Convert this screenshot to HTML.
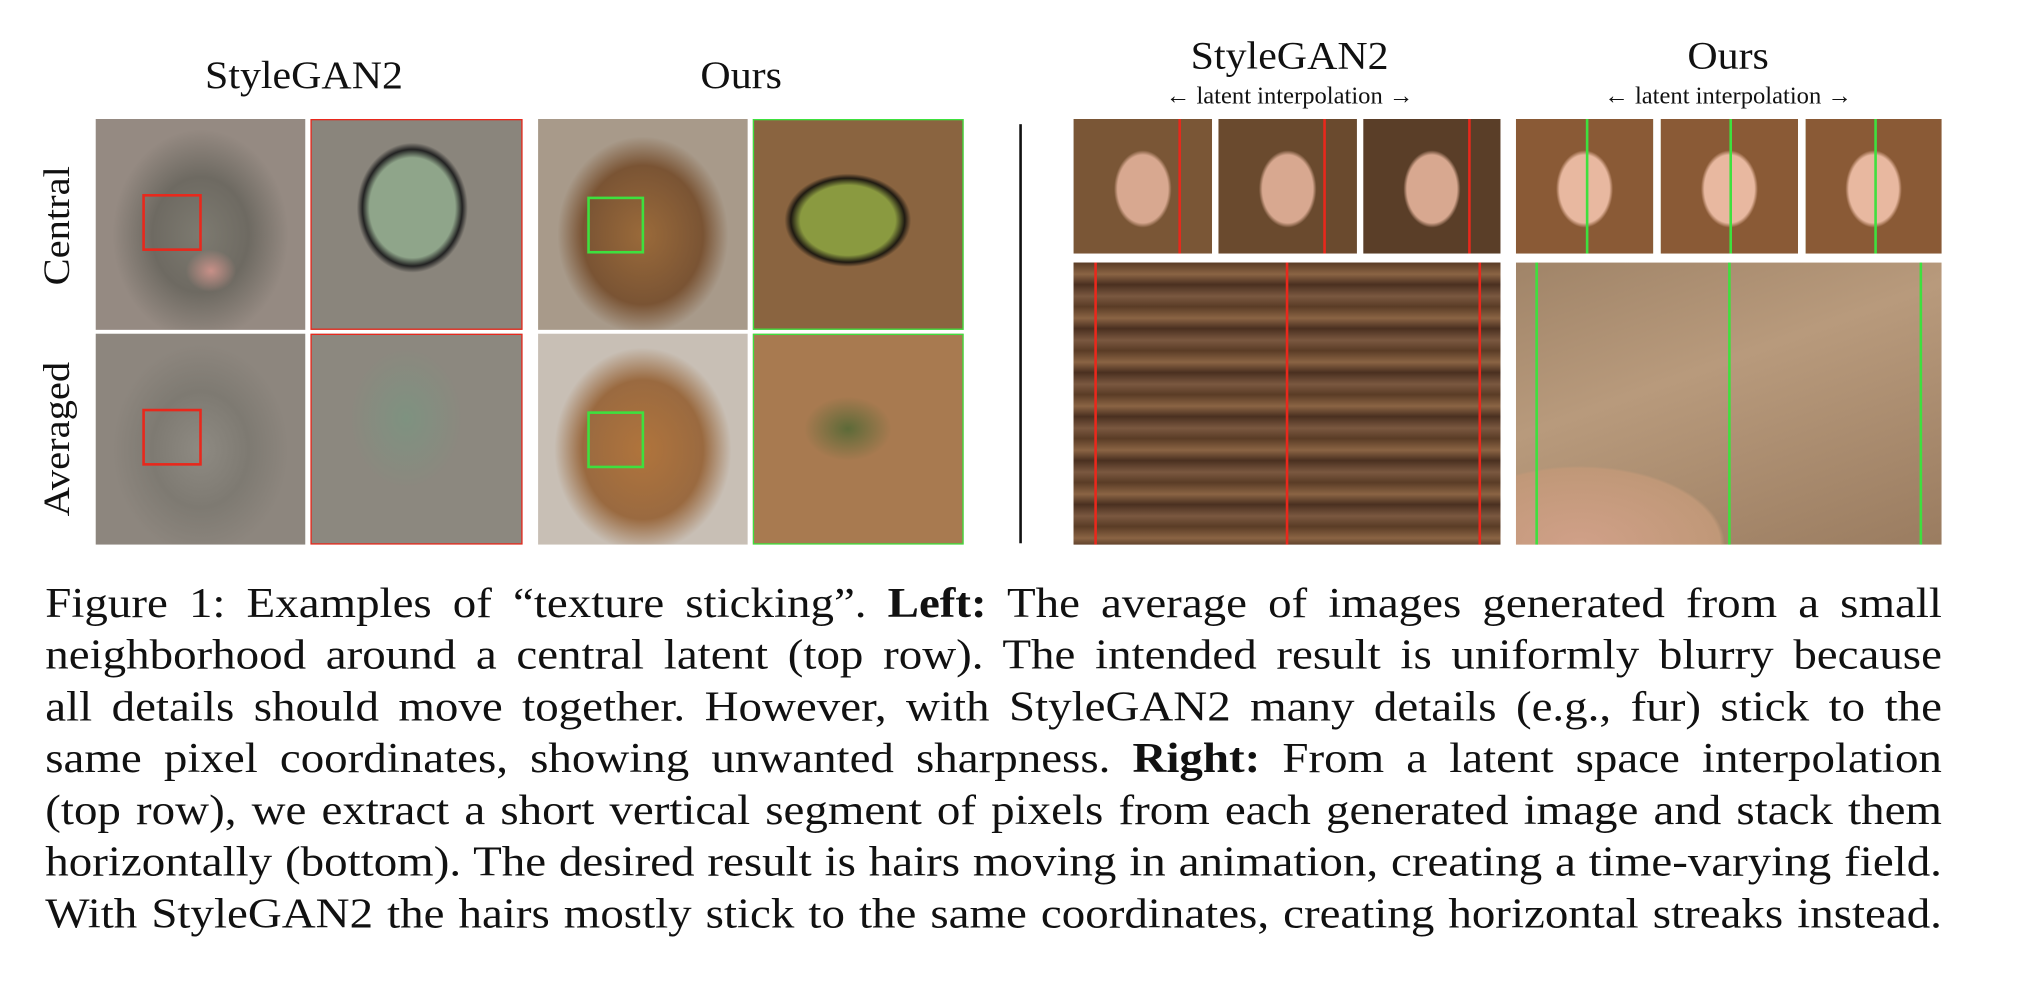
<!DOCTYPE html>
<html><head><meta charset="utf-8">
<style>
html,body{margin:0;padding:0;background:#fff;}
body{width:2028px;height:988px;overflow:hidden;}
#wrap{position:absolute;left:0;top:0;width:1568px;height:764px;transform:scale(1.2935);transform-origin:0 0;font-family:"Liberation Serif",serif;color:#111;}
.a{position:absolute;}
.title{font-size:30px;text-align:center;transform:scaleX(1.08);}
.sub{font-size:19px;text-align:center;white-space:nowrap;}
.row{font-size:29px;transform:rotate(-90deg) scaleX(1.08);transform-origin:center;white-space:nowrap;text-align:center;width:170px;}
.cap{position:absolute;left:35px;width:1333px;font-size:33px;line-height:40px;text-align:justify;text-align-last:justify;white-space:nowrap;transform:scaleX(1.1);transform-origin:0 0;}
.box{position:absolute;border:2px solid;}
.vl{position:absolute;width:2px;}
</style></head><body>
<div id="wrap">
<div class="a title" style="left:135px;top:42px;width:200px">StyleGAN2</div>
<div class="a title" style="left:473px;top:42px;width:200px">Ours</div>
<div class="a row" style="left:-40px;top:158px">Central</div>
<div class="a row" style="left:-40px;top:323px">Averaged</div>

<div class="a" style="left:74px;top:92px;width:162px;height:163px;background:radial-gradient(ellipse 12% 10% at 55% 72%,#c89088,transparent),radial-gradient(ellipse 42% 50% at 50% 55%,#7d7a70,#6e6a62 55%,#958a82)">
<div class="box" style="left:36px;top:58px;width:42px;height:40px;border-color:#e8281c"></div></div>
<div class="a" style="left:240px;top:92px;width:162px;height:161px;background:radial-gradient(ellipse 34% 40% at 48% 42%,#8fa58a 60%,#222 70%,#8a857c 78%),#8a857c;border:1px solid #e8281c"></div>
<div class="a" style="left:74px;top:258px;width:162px;height:163px;background:radial-gradient(ellipse 42% 50% at 50% 55%,#8e8a82,#7e7a72 55%,#8d867e)">
<div class="box" style="left:36px;top:58px;width:42px;height:40px;border-color:#e8281c"></div></div>
<div class="a" style="left:240px;top:258px;width:162px;height:161px;background:radial-gradient(ellipse 32% 40% at 45% 40%,#7e9280,#8c887f 85%),#8c887f;border:1px solid #e8281c"></div>

<div class="a" style="left:416px;top:92px;width:162px;height:163px;background:radial-gradient(ellipse 48% 55% at 50% 55%,#9a6a3a,#7a5434 60%,#a89a8a 85%)">
<div class="box" style="left:38px;top:60px;width:40px;height:40px;border-color:#3ee03e"></div></div>
<div class="a" style="left:582px;top:92px;width:161px;height:161px;background:radial-gradient(ellipse 38% 28% at 45% 48%,#8a9a40 60%,#1f1a12 72%,#8a6440 80%),#8a6440;border:1px solid #3ee03e"></div>
<div class="a" style="left:416px;top:258px;width:162px;height:163px;background:radial-gradient(ellipse 48% 55% at 50% 55%,#b0743c,#9a6a40 60%,#c8bfb5 88%)">
<div class="box" style="left:38px;top:60px;width:40px;height:40px;border-color:#3ee03e"></div></div>
<div class="a" style="left:582px;top:258px;width:161px;height:161px;background:radial-gradient(ellipse 30% 22% at 45% 45%,#5c6a38,#a87a50 70%),#a87a50;border:1px solid #3ee03e"></div>

<div class="a" style="left:788px;top:96px;width:2px;height:324px;background:#111"></div>

<div class="a title" style="left:897px;top:27px;width:200px">StyleGAN2</div>
<div class="a sub" style="left:880px;top:64px;width:234px">← latent interpolation →</div>
<div class="a title" style="left:1236px;top:27px;width:200px">Ours</div>
<div class="a sub" style="left:1219px;top:64px;width:234px">← latent interpolation →</div>

<div class="a" style="left:830px;top:92px;width:107px;height:104px;background:radial-gradient(ellipse 26% 36% at 50% 52%,#d8a890 70%,#7a5636 80%),#b8b4ae"></div>
<div class="a" style="left:942px;top:92px;width:107px;height:104px;background:radial-gradient(ellipse 26% 36% at 50% 52%,#d8a890 70%,#6a4a2e 80%),#b8b4ae"></div>
<div class="a" style="left:1054px;top:92px;width:106px;height:104px;background:radial-gradient(ellipse 26% 36% at 50% 52%,#d8a890 70%,#5a3e28 80%),#a8a6a2"></div>
<div class="a" style="left:830px;top:203px;width:330px;height:218px;background:repeating-linear-gradient(180deg,#5a3c26 0,#8a6444 9px,#4a3020 17px,#7a5840 26px,#5a3c26 34px),#6a4a30">
<div class="vl" style="left:16px;top:0;height:218px;background:#e8281c"></div>
<div class="vl" style="left:164px;top:0;height:218px;background:#e8281c"></div>
<div class="vl" style="left:313px;top:0;height:218px;background:#e8281c"></div></div>
<div class="a vl" style="left:911px;top:92px;height:104px;background:#e8281c"></div>
<div class="a vl" style="left:1023px;top:92px;height:104px;background:#e8281c"></div>
<div class="a vl" style="left:1135px;top:92px;height:104px;background:#e8281c"></div>

<div class="a" style="left:1172px;top:92px;width:106px;height:104px;background:radial-gradient(ellipse 26% 36% at 50% 52%,#e8b8a0 70%,#8a5a36 80%),#6a7a3a"></div>
<div class="a" style="left:1284px;top:92px;width:106px;height:104px;background:radial-gradient(ellipse 26% 36% at 50% 52%,#e8b8a0 70%,#8a5a36 80%),#6a7a3a"></div>
<div class="a" style="left:1396px;top:92px;width:105px;height:104px;background:radial-gradient(ellipse 26% 36% at 50% 52%,#e8b8a0 70%,#8a5a36 80%),#6a7a3a"></div>
<div class="a" style="left:1172px;top:203px;width:329px;height:218px;background:radial-gradient(ellipse 55% 45% at 15% 100%,#d0a088,#c09878 60%,transparent 62%),linear-gradient(160deg,#a08468,#b89a7c 40%,#9a7c60)">
<div class="vl" style="left:15px;top:0;height:218px;background:#3ee03e"></div>
<div class="vl" style="left:164px;top:0;height:218px;background:#3ee03e"></div>
<div class="vl" style="left:312px;top:0;height:218px;background:#3ee03e"></div></div>
<div class="a vl" style="left:1226px;top:92px;height:104px;background:#3ee03e"></div>
<div class="a vl" style="left:1337px;top:92px;height:104px;background:#3ee03e"></div>
<div class="a vl" style="left:1449px;top:92px;height:104px;background:#3ee03e"></div>

<div>
<div class="cap" style="top:447px">Figure 1: Examples of “texture sticking”. <b>Left:</b> The average of images generated from a small</div>
<div class="cap" style="top:487px">neighborhood around a central latent (top row). The intended result is uniformly blurry because</div>
<div class="cap" style="top:527px">all details should move together. However, with StyleGAN2 many details (e.g., fur) stick to the</div>
<div class="cap" style="top:567px">same pixel coordinates, showing unwanted sharpness. <b>Right:</b> From a latent space interpolation</div>
<div class="cap" style="top:607px">(top row), we extract a short vertical segment of pixels from each generated image and stack them</div>
<div class="cap" style="top:647px">horizontally (bottom). The desired result is hairs moving in animation, creating a time-varying field.</div>
<div class="cap" style="top:687px">With StyleGAN2 the hairs mostly stick to the same coordinates, creating horizontal streaks instead.</div>
</div>
</div>
</body></html>
